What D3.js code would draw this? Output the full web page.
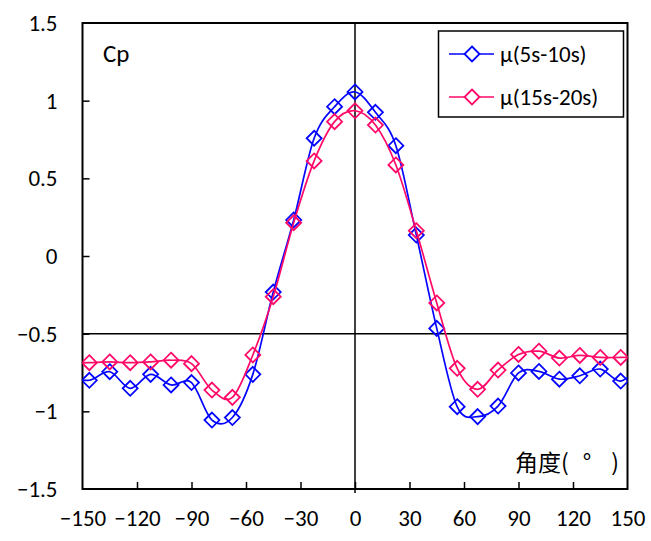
<!DOCTYPE html>
<html>
<head>
<meta charset="utf-8">
<script src="https://cdn.jsdelivr.net/npm/d3@7"></script>
<style>
  html, body { margin: 0; padding: 0; background: #fff; }
  svg { display: block; }
  text { font-family: Carlito, Lato, "Open Sans", sans-serif; fill: #000; }
</style>
</head>
<body>
<svg id="chart" width="651" height="541"></svg>
<script>
// Pressure coefficient around the section, two averaging windows
const angles = [-157.5, -146.25, -135, -123.75, -112.5, -101.25, -90, -78.75, -67.5, -56.25,
  -45, -33.75, -22.5, -11.25, 0, 11.25, 22.5, 33.75, 45, 56.25, 67.5, 78.75, 90,
  101.25, 112.5, 123.75, 135, 146.25, 157.5];
const cpEarly = [-0.78, -0.80, -0.745, -0.852, -0.762, -0.83, -0.815, -1.056, -1.04, -0.762,
  -0.232, 0.232, 0.758, 0.961, 1.056, 0.925, 0.71, 0.135, -0.466, -0.97, -1.034, -0.966,
  -0.753, -0.743, -0.793, -0.771, -0.728, -0.805, -0.70];
const cpLate = [-0.69, -0.687, -0.682, -0.687, -0.682, -0.671, -0.693, -0.863, -0.91, -0.637,
  -0.262, 0.214, 0.612, 0.865, 0.935, 0.843, 0.586, 0.163, -0.302, -0.723, -0.858, -0.734,
  -0.634, -0.613, -0.657, -0.64, -0.653, -0.653, -0.65];
const seriesNames = ["μ(5s-10s)", "μ(15s-20s)"];
const seriesColors = ["#0505ff", "#ff0a68"];
const xTicks = [-150, -120, -90, -60, -30, 0, 30, 60, 90, 120, 150];
const yTicks = [-1.5, -1, -0.5, 0, 0.5, 1, 1.5];

const svg = d3.select("#chart");
const L = 82.5, R = 627.5, T = 23, B = 489;

const x = d3.scaleLinear().domain([-150, 150]).range([L, R]);
const y = d3.scaleLinear().domain([-1.5, 1.5]).range([B, T]);

svg.append("defs").append("clipPath").attr("id", "plotClip")
  .append("rect").attr("x", L).attr("y", T).attr("width", R - L).attr("height", B - T);

// reference lines: vertical at 0 deg, horizontal at Cp = -0.5
svg.append("line").attr("x1", x(0)).attr("x2", x(0)).attr("y1", T).attr("y2", B + 4)
  .attr("stroke", "#000").attr("stroke-width", 1.5);
svg.append("line").attr("x1", L).attr("x2", R).attr("y1", y(-0.5)).attr("y2", y(-0.5))
  .attr("stroke", "#000").attr("stroke-width", 1.5);

// axes with inside ticks
const yAxis = d3.axisLeft(y).tickValues(yTicks).tickSize(-7).tickPadding(25)
  .tickFormat(d3.format("~g"));
const gy = svg.append("g").attr("transform", `translate(${L},0)`).call(yAxis);
gy.select(".domain").remove();
gy.selectAll("line").attr("stroke", "#000").attr("stroke-width", 1.5);

const xAxis = d3.axisBottom(x).tickValues(xTicks).tickSize(-7).tickPadding(21)
  .tickFormat(d3.format("d"));
const gx = svg.append("g").attr("transform", `translate(0,${B})`).call(xAxis);
gx.select(".domain").remove();
gx.selectAll("line").attr("stroke", "#000").attr("stroke-width", 1.5);
gx.selectAll(".tick").filter(d => d === -150 || d === 150).select("line").remove();
gy.selectAll(".tick").filter(d => d === -1.5 || d === 1.5).select("line").remove();
svg.selectAll(".tick text")
  .attr("font-family", "Carlito, Lato, 'Open Sans', sans-serif")
  .attr("font-size", 23).attr("fill", "#000");

// plot frame
svg.append("rect").attr("x", L).attr("y", T).attr("width", R - L).attr("height", B - T)
  .attr("fill", "none").attr("stroke", "#000").attr("stroke-width", 2);

// smoothed series lines and diamond markers
const line = d3.line().x((d, i) => x(angles[i])).y(d => y(d)).curve(d3.curveCardinal.tension(0));
const diamond = (cx, cy, r) => `M${cx},${cy - r}L${cx + r},${cy}L${cx},${cy + r}L${cx - r},${cy}Z`;

[cpEarly, cpLate].forEach((vals, s) => {
  const g = svg.append("g").attr("clip-path", "url(#plotClip)");
  g.append("path").datum(vals).attr("d", line)
    .attr("fill", "none").attr("stroke", seriesColors[s]).attr("stroke-width", 1.7);
  g.selectAll("path.mk").data(vals.map((v, i) => [angles[i], v]).filter(d => d[0] >= -150 && d[0] <= 150))
    .enter().append("path").attr("class", "mk")
    .attr("d", d => diamond(x(d[0]), y(d[1]), 7.5))
    .attr("fill", "none").attr("stroke", seriesColors[s]).attr("stroke-width", 1.8);
});

// legend
const lg = svg.append("g");
lg.append("rect").attr("x", 438.5).attr("y", 31).attr("width", 185).attr("height", 86)
  .attr("fill", "#fff").attr("stroke", "#000").attr("stroke-width", 1.5);
seriesNames.forEach((name, s) => {
  const ly = 54 + s * 43;
  lg.append("line").attr("x1", 449).attr("x2", 494).attr("y1", ly).attr("y2", ly)
    .attr("stroke", seriesColors[s]).attr("stroke-width", 1.7);
  lg.append("path").attr("d", diamond(472, ly, 7.5))
    .attr("fill", "#fff").attr("stroke", seriesColors[s]).attr("stroke-width", 1.8);
  lg.append("text").attr("x", 500).attr("y", ly + 8).attr("font-size", 23).text(name);
});

// axis titles
svg.append("text").attr("x", 103).attr("y", 62).attr("font-size", 25).text("Cp");
const xt = svg.append("text").attr("x", 515).attr("y", 471).attr("font-size", 23)
  .style("font-family", "'Noto Sans CJK SC', sans-serif");
xt.append("tspan").text("角度(");
xt.append("tspan").attr("dx", 14).text("°");
xt.append("tspan").attr("dx", 20).text(")");
</script>
</body>
</html>
